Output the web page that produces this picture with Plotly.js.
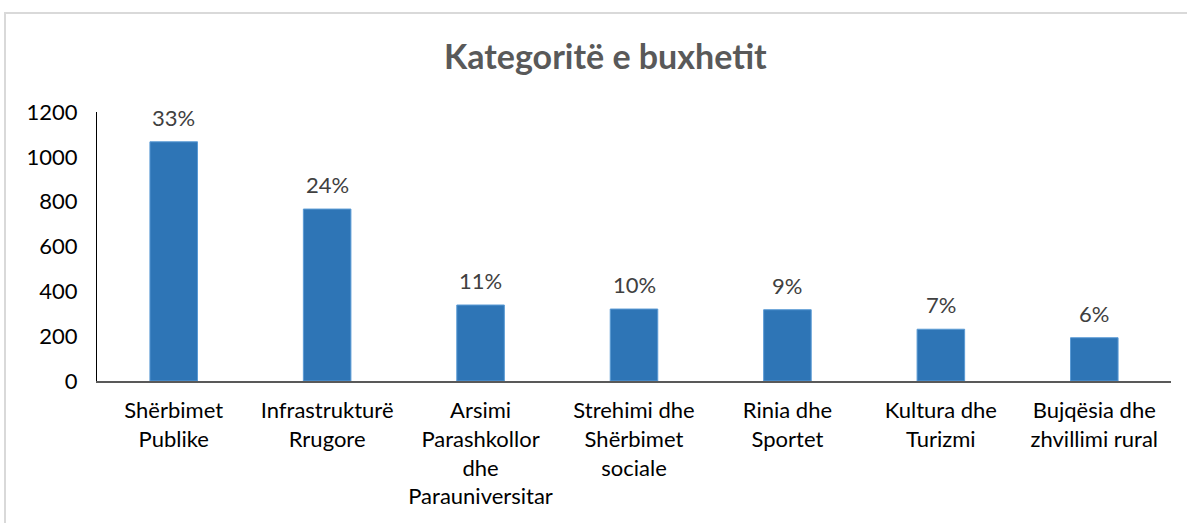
<!DOCTYPE html>
<html>
<head>
<meta charset="utf-8">
<script src="https://cdn.plot.ly/plotly-3.0.1.min.js"></script>
<style>
  body { margin: 0; background: #fff; }
  #chart { width: 1187px; height: 523px; }
  #frame { position: absolute; left: 4px; top: 12px; width: 1200px; height: 530px;
           border-left: 2px solid #d9d9d9; border-top: 2px solid #d9d9d9; pointer-events: none; }
</style>
</head>
<body>
<div id="chart"></div>
<div id="frame"></div>
<script>
const categories = [
  'Shërbimet<br>Publike',
  'Infrastrukturë<br>Rrugore',
  'Arsimi<br>Parashkollor<br>dhe<br>Parauniversitar',
  'Strehimi dhe<br>Shërbimet<br>sociale',
  'Rinia dhe<br>Sportet',
  'Kultura dhe<br>Turizmi',
  'Bujqësia dhe<br>zhvillimi rural'
];
const amounts = [1067, 767, 339, 321, 318, 231, 193];
const shares = ['33%', '24%', '11%', '10%', '9%', '7%', '6%'];
const yTicks = [0, 200, 400, 600, 800, 1000, 1200];

const data = [{
  type: 'bar',
  x: categories,
  y: amounts,
  marker: {color: '#2e75b6', line: {color: '#5b9bd5', width: 1}},
  hoverinfo: 'skip'
}];

// percentage labels sit a bit above each bar, like the Excel original
const labels = categories.map((c, i) => ({
  x: c, y: amounts[i], text: shares[i],
  showarrow: false, yanchor: 'bottom', yshift: 9,
  font: {size: 22, color: '#404040'}
}));

const layout = {
  title: {text: '<b>Kategoritë e buxhetit</b>', font: {size: 34, color: '#595959'}, x: 0.51, y: 0.89, yanchor: 'middle'},
  width: 1187,
  height: 523,
  margin: {l: 97, r: 16, t: 112, b: 142},
  font: {family: 'Lato, "Open Sans", sans-serif', size: 22, color: '#000'},
  bargap: 0.69,
  showlegend: false,
  annotations: labels,
  xaxis: {
    showline: true, linecolor: '#595959', linewidth: 2, automargin: false,
    ticks: '', ticklabelstandoff: 9, tickfont: {size: 22, color: '#000'}, showgrid: false
  },
  yaxis: {
    range: [0, 1200], tickvals: yTicks, showline: true, linecolor: '#000', linewidth: 1,
    automargin: false, showgrid: false, zeroline: false, ticks: '', ticklabelstandoff: 14,
    tickfont: {size: 22, color: '#000'}
  },
  plot_bgcolor: '#fff',
  paper_bgcolor: '#fff'
};

Plotly.newPlot('chart', data, layout, {displayModeBar: false});
</script>
</body>
</html>
